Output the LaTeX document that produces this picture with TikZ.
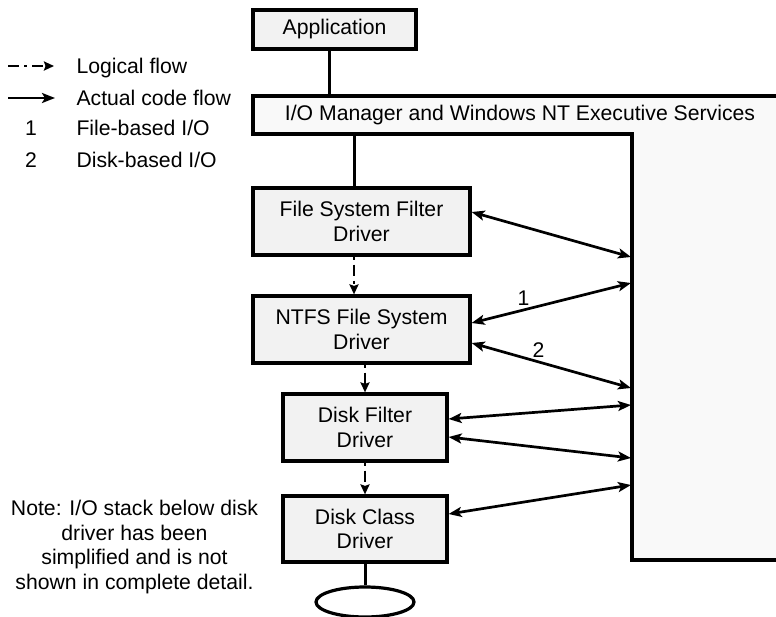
\documentclass[tikz,border=0pt]{standalone}
\usepackage{fontspec}
\setmainfont{Liberation Sans}
\usepackage{xcolor}
\usepackage{tikz}
\usetikzlibrary{calc}
\usetikzlibrary{arrows.meta,shapes.geometric}

\definecolor{drvfill}{gray}{0.95}
\definecolor{mgrfill}{gray}{0.975}

\begin{document}
\begin{tikzpicture}[x=1pt,y=-1pt,
  font=\fontsize{21.2}{24.7}\selectfont,
  >={Stealth[length=13pt,width=10pt,inset=3pt]},
  drvbox/.style={draw,line width=3.2pt,fill=drvfill,align=center,inner sep=0pt},
  codeflow/.style={line width=2.7pt,<->},
  logicflow/.style={line width=2.7pt,dash pattern=on 3pt off 5pt on 11pt off 5pt,
    -{Stealth[length=10pt,width=9pt,inset=1.5pt]}},
  stem/.style={line width=3pt}]

\useasboundingbox (0,0) rectangle (776,616);

% I/O manager (L-shaped, runs off the right edge)
\fill[mgrfill] (253,96) -- (782,96) -- (782,560) -- (632,560) -- (632,134) -- (253,134) -- cycle;
\draw[line width=3.2pt,line join=miter] (782,560) -- (632,560) -- (632,134) -- (253,134) -- (253,96) -- (782,96);
\node (iomgr) at (520,115) {I/O Manager and Windows NT Executive Services};

% Driver stack
\node[drvbox,minimum width=163pt,minimum height=39pt] (app) at (334.5,29.5) {Application};
\node[drvbox,minimum width=217pt,minimum height=67pt] (fsfd) at (361.5,221.5) {File System Filter\\Driver};
\node[drvbox,minimum width=217pt,minimum height=67pt] (ntfs) at (361.5,329.5) {NTFS File System\\Driver};
\node[drvbox,minimum width=164pt,minimum height=67pt] (dfd) at (365,427.5) {Disk Filter\\Driver};
\node[drvbox,minimum width=164pt,minimum height=66pt] (dcd) at (365,529) {Disk Class\\Driver};
\node[draw,ellipse,line width=3.2pt,fill=white,minimum width=98pt,minimum height=30pt,inner sep=0pt] (disk) at (365,602) {};

% Stems
\coordinate (appfoot) at (329,96);
\coordinate (mgrfoot) at (354,134);
\draw[stem] (app.south -| appfoot) -- (appfoot);
\draw[stem] (mgrfoot) -- (mgrfoot |- fsfd.north);
\draw[stem] (dcd.south) -- (disk.north);

% Logical flow down the stack
\draw[logicflow] (mgrfoot |- fsfd.south) -- (mgrfoot |- ntfs.north);
\draw[logicflow] (dfd.north |- ntfs.south) -- (dfd.north);
\draw[logicflow] (dfd.south) -- (dcd.north);

% Calls into the I/O manager
\coordinate (m1) at (631,257);
\coordinate (m2) at (631,283);
\coordinate (m3) at (631,388);
\coordinate (m4) at (631,405);
\coordinate (m5) at (631,458);
\coordinate (m6) at (631,485);
\draw[codeflow] ($(fsfd.east)+(0,-9.5)$) -- (m1);
\draw[codeflow] ($(ntfs.east)+(0,-6.5)$) -- (m2);
\draw[codeflow] ($(ntfs.east)+(0,13.5)$) -- (m3);
\draw[codeflow] ($(dfd.east)+(0,-8.5)$) -- (m4);
\draw[codeflow] ($(dfd.east)+(0,9.5)$) -- (m5);
\draw[codeflow] ($(dcd.east)+(0,-15)$) -- (m6);
\node (fileio) at (523.5,298) {1};
\node (diskio) at (538.5,350) {2};

% Legend
\coordinate (lgla) at (8,66);
\coordinate (lglb) at (54,66);
\coordinate (lgca) at (8,98);
\coordinate (lgcb) at (55,98);
\draw[logicflow,dash phase=8pt] (lgla) -- (lglb);
\draw[line width=2.7pt,->] (lgca) -- (lgcb);
\node[anchor=base west] (lglogic) at (73,73) {Logical flow};
\node[anchor=base west] (lgcode) at (73,105.5) {Actual code flow};
\node[anchor=base] (lgone) at (31,135.5) {1};
\node[anchor=base west] (lgfile) at (73,135.5) {File-based I/O};
\node[anchor=base] (lgtwo) at (31,167) {2};
\node[anchor=base west] (lgdisk) at (73,167) {Disk-based I/O};

% Note
\node[align=center] (note) at (134.5,547) {Note: I/O stack below disk\\driver has been\\simplified and is not\\shown in complete detail.};

\end{tikzpicture}
\end{document}
